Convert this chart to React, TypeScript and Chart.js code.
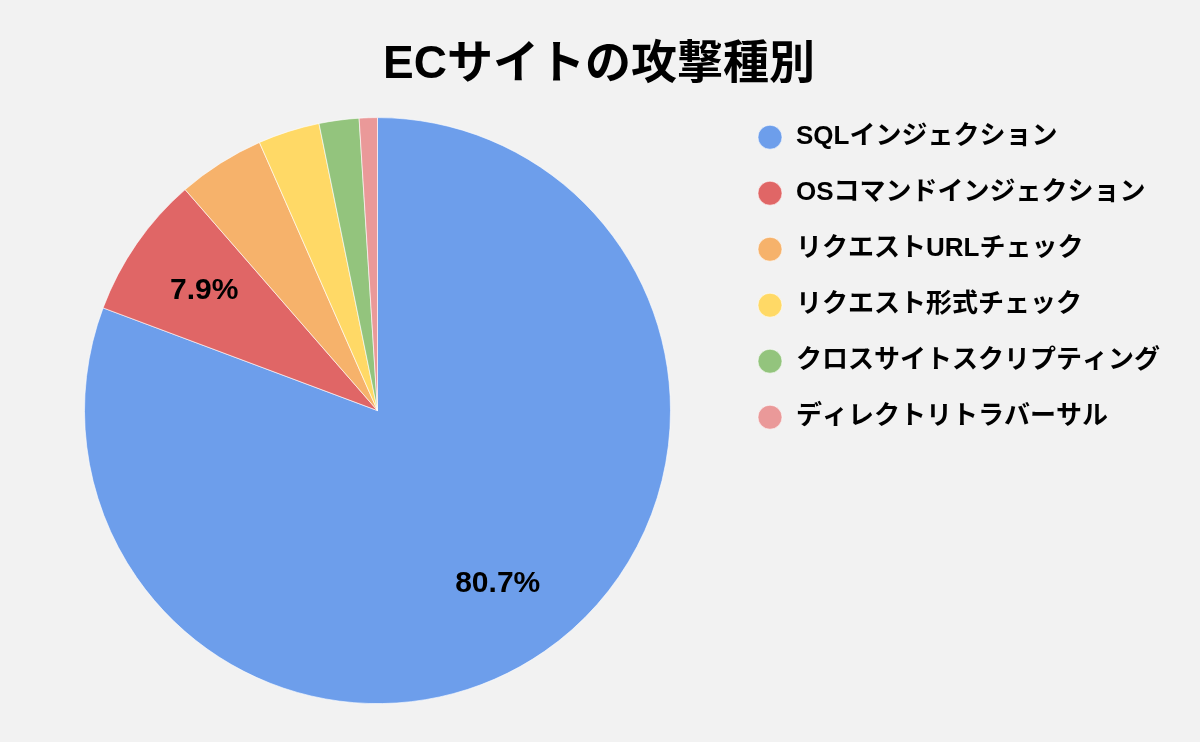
import React, { useEffect, useRef } from "react";
import { Chart, registerables } from "chart.js";

Chart.register(...registerables);

const TITLE = "ECサイトの攻撃種別";

const categories = [
  "SQLインジェクション",
  "OSコマンドインジェクション",
  "リクエストURLチェック",
  "リクエスト形式チェック",
  "クロスサイトスクリプティング",
  "ディレクトリトラバーサル",
];

const shares = [80.7, 7.9, 4.8, 3.4, 2.2, 1.0];

const sliceColors = ["#6d9eeb", "#e06666", "#f6b26b", "#ffd966", "#93c47d", "#ea9999"];

const FONT = '"Liberation Sans", Arial, "Noto Sans CJK JP", sans-serif';

// percentage labels drawn inside the bigger slices
const sliceLabels = {
  id: "sliceLabels",
  afterDatasetsDraw(chart: any) {
    const { ctx } = chart;
    const meta = chart.getDatasetMeta(0);
    const values: number[] = chart.data.datasets[0].data;
    const total = values.reduce((a, b) => a + b, 0);
    ctx.save();
    ctx.font = `bold 30px ${FONT}`;
    ctx.fillStyle = "#000000";
    ctx.textAlign = "center";
    ctx.textBaseline = "middle";
    meta.data.forEach((arc: any, i: number) => {
      const pct = (values[i] / total) * 100;
      if (pct < 5) return;
      const { x, y, startAngle, endAngle, outerRadius } = arc.getProps(
        ["x", "y", "startAngle", "endAngle", "outerRadius"],
        true
      );
      const mid = (startAngle + endAngle) / 2;
      const r = outerRadius * 0.72;
      ctx.fillText(pct.toFixed(1) + "%", x + Math.cos(mid) * r, y + Math.sin(mid) * r);
    });
    ctx.restore();
  },
};

const App = () => {
  const canvasRef = useRef<HTMLCanvasElement>(null);

  useEffect(() => {
    document.body.style.margin = "0";
    document.body.style.background = "#f2f2f2";
    if (!canvasRef.current) return;

    const chart = new Chart(canvasRef.current, {
      type: "pie",
      data: {
        labels: categories,
        datasets: [
          {
            data: shares,
            backgroundColor: sliceColors,
            borderColor: "rgba(255,255,255,0.6)",
            borderWidth: 1,
            radius: 293,
          },
        ],
      },
      options: {
        responsive: true,
        maintainAspectRatio: false,
        animation: false,
        layout: {
          padding: { left: 28, right: 30, top: 0, bottom: 15 },
        },
        plugins: {
          title: {
            display: true,
            text: TITLE,
            color: "#000000",
            font: { family: FONT, size: 46, weight: "bold" },
            padding: { top: 38, bottom: 1 },
          },
          legend: {
            position: "right",
            align: "start",
            fullSize: false,
            labels: {
              usePointStyle: true,
              pointStyle: "circle",
              boxWidth: 26,
              boxHeight: 17,
              padding: 30,
              color: "#000000",
              font: { family: FONT, size: 26, weight: "bold" },
            },
          },
          tooltip: { enabled: false },
        },
      },
      plugins: [sliceLabels],
    });

    return () => {
      chart.destroy();
    };
  }, []);

  return (
    <div style={{ position: "relative", width: 1200, height: 742, background: "#f2f2f2" }}>
      <canvas ref={canvasRef} />
    </div>
  );
};

export default App;
